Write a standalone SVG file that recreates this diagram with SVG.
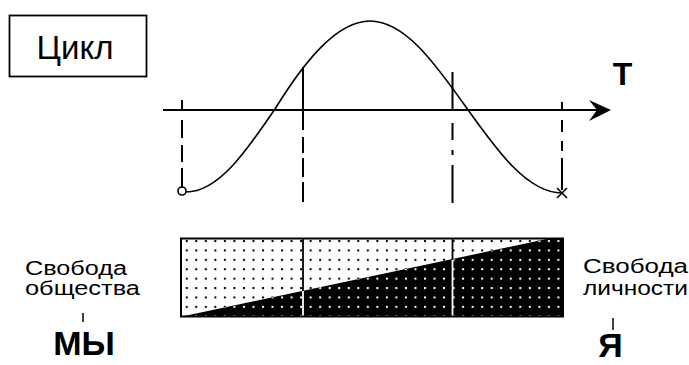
<svg xmlns="http://www.w3.org/2000/svg" width="689" height="365" viewBox="0 0 689 365">
<style>
.ln{stroke:#000;stroke-width:2;fill:none}
.thin{stroke:#000;stroke-width:1.6;fill:none}
.lbl{font-family:"Liberation Sans",Arial,sans-serif;font-size:20px;fill:#000}
.big{font-family:"Liberation Sans",Arial,sans-serif;font-weight:bold;font-size:34px;fill:#000}
</style>
<defs>
<pattern id="dotsB" patternUnits="userSpaceOnUse" x="181.95" y="236.3" width="9.53" height="9.4"><rect x="3.8" y="3.75" width="2" height="2" fill="#000"/></pattern>
<pattern id="dotsW" patternUnits="userSpaceOnUse" x="181.95" y="236.3" width="9.53" height="9.4"><rect x="3.8" y="3.75" width="2" height="2" fill="#fff"/></pattern>
</defs>
<rect width="689" height="365" fill="#fff"/>

<g id="cycle-box">
<rect x="9.5" y="15.5" width="137" height="61" fill="#fff" stroke="#000" stroke-width="1.8"/>
<text x="75" y="59" text-anchor="middle" font-family="Liberation Sans, Arial, sans-serif" font-size="33">Цикл</text>
</g>

<g id="axis">
<line class="ln" x1="163" y1="110" x2="600" y2="110"/>
<polygon points="611,110 589,100 597,110 589,121" fill="#000"/>
<text x="622.5" y="85" text-anchor="middle" font-family="Liberation Sans, Arial, sans-serif" font-weight="bold" font-size="32">T</text>
</g>

<g id="curve">
<path class="thin" d="M186,192 C218,192 245,153 275,109 C304,62 336.7,21 370,21 C404.6,21 434.7,62.9 466,107 C497.3,151.1 527.4,193 562,193"/>
<circle cx="182" cy="191" r="4" fill="#fff" stroke="#000" stroke-width="1.6"/>
<path class="thin" d="M557,188 L567,198 M567,188 L557,198"/>
</g>

<g id="connectors">
<path class="ln" d="M182,100 V110 M182,120 V138 M182,145 V162 M182,168 V187"/>
<path class="ln" d="M303,67 V130 M303,137 V153 M303,158 V177 M303,182 V202"/>
<path class="ln" d="M452.5,72 V110 M452.5,123 V140 M452.5,150 V155 M452.5,165 V203"/>
<path class="ln" d="M562,102 V110 M562,120 V132 M562,141 V151 M562,158 V190"/>
</g>

<g id="bar">
<rect x="181" y="238.5" width="382" height="78" fill="#fff"/>
<rect x="181" y="238.5" width="382" height="78" fill="url(#dotsB)"/>
<polygon points="182,316.5 563,316.5 563,238.5 549,238.5" fill="#000"/>
<polygon points="182,316.5 563,316.5 563,238.5 549,238.5" fill="url(#dotsW)"/>
<line x1="303" y1="239" x2="303" y2="291" stroke="#000" stroke-width="1.8"/>
<line x1="303" y1="291" x2="303" y2="316" stroke="#fff" stroke-width="1.8"/>
<line x1="452.5" y1="239" x2="452.5" y2="260" stroke="#000" stroke-width="1.8"/>
<line x1="452.5" y1="260" x2="452.5" y2="316" stroke="#fff" stroke-width="1.8"/>
<rect x="181" y="238.5" width="382" height="78" fill="none" stroke="#000" stroke-width="2"/>
</g>

<g id="label-left">
<text class="lbl" x="25" y="275" textLength="102" lengthAdjust="spacingAndGlyphs">Свобода</text>
<text class="lbl" x="25" y="295" textLength="115" lengthAdjust="spacingAndGlyphs">общества</text>
<line x1="83" y1="313" x2="83" y2="322" stroke="#000" stroke-width="1.5"/>
<text class="big" x="84" y="355" text-anchor="middle">МЫ</text>
</g>

<g id="label-right">
<text class="lbl" x="583" y="273" textLength="105" lengthAdjust="spacingAndGlyphs">Свобода</text>
<text class="lbl" x="583" y="295" textLength="105" lengthAdjust="spacingAndGlyphs">личности</text>
<line x1="613" y1="318" x2="613" y2="330" stroke="#000" stroke-width="1.5"/>
<text class="big" x="610.5" y="357" text-anchor="middle" font-size="31">Я</text>
</g>
</svg>
